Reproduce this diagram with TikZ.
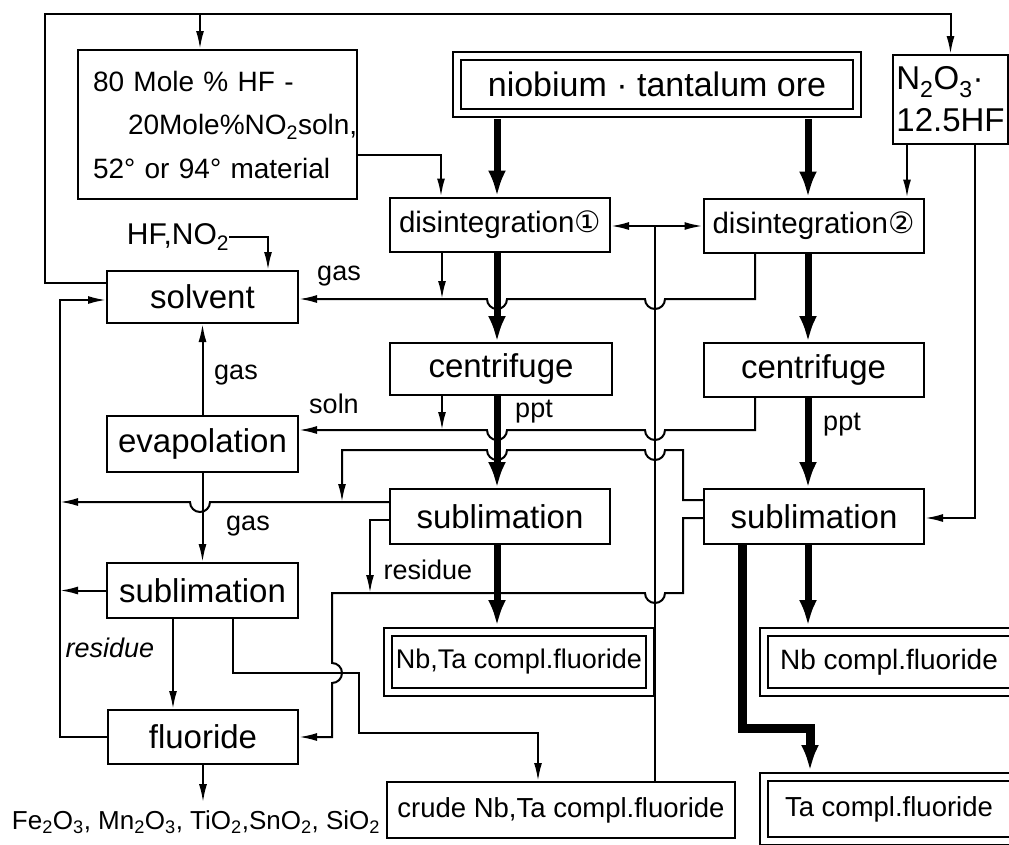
\documentclass[tikz,border=0pt]{standalone}
\usepackage{fontspec}
\setmainfont{Liberation Sans}
\newfontfamily\circfont{DejaVu Sans}
\usetikzlibrary{arrows.meta}
\tikzset{
  box/.style={draw,line width=2pt,inner sep=0pt,minimum width=220pt,minimum height=54pt,font=\fontsize{33}{36}\selectfont},
  disbox/.style={box,font=\fontsize{29.5}{32}\selectfont},
  sbox/.style={box,minimum width=191pt,minimum height=55pt},
  dbox/.style={box,double,double distance=6pt,font=\fontsize{27}{30}\selectfont},
  lbl/.style={inner sep=0pt,font=\fontsize{27}{30}\selectfont},
  pipe/.style={line width=2pt},
  flow/.style={line width=2pt,-{Latex[length=18pt,width=8pt]}},
  main/.style={line width=7pt,-{Latex[length=26pt,width=18pt]}},
}
\begin{document}
\begin{tikzpicture}[x=1pt,y=-1pt]
\useasboundingbox (0,0) rectangle (1009,844);
\clip (0,0) rectangle (1009,844);
\node[box,minimum width=279pt,minimum height=149pt,text width=249pt,align=left,font=\fontsize{28}{43.5}\selectfont] (hfsoln) at (217.5,124.5) {80 Mole \% HF -\\\hspace*{35pt}20Mole\%NO\textsubscript{2}soln,\\52° or 94° material};
\node[dbox,minimum width=400pt,minimum height=57pt,font=\fontsize{34}{36}\selectfont] (ore) at (657,84.5) {niobium · tantalum ore};
\node[box,minimum width=115pt,minimum height=89pt,align=left,font=\fontsize{33}{42}\selectfont] (nnox) at (950.5,99.5) {N\textsubscript{2}O\textsubscript{3}·\\12.5HF};
\node[disbox] (dis1) at (500,224.5) {disintegration{\circfont ①}};
\node[disbox] (dis2) at (813.5,225.5) {disintegration{\circfont ②}};
\node[sbox,minimum height=52pt] (solvent) at (202.5,297) {solvent};
\node[box,minimum width=222pt,minimum height=52pt] (cen1) at (501,369) {centrifuge};
\node[box] (cen2) at (813.5,370) {centrifuge};
\node[sbox,minimum height=56pt] (evap) at (202.5,444) {evapolation};
\node[box,minimum height=55pt] (sub1) at (500,516.5) {sublimation};
\node[box,minimum height=55pt] (sub2) at (814,516.5) {sublimation};
\node[sbox] (sub3) at (202.5,590.5) {sublimation};
\node[sbox,minimum width=190pt,minimum height=54pt] (fluor) at (203,737) {fluoride};
\node[dbox,minimum width=262pt,minimum height=60pt] (nbta) at (519,662) {Nb,Ta compl.fluoride};
\node[dbox,minimum width=250pt,minimum height=60pt,font=\fontsize{28}{30}\selectfont] (nb) at (889,662) {Nb compl.fluoride};
\node[dbox,minimum width=250pt,minimum height=64pt,font=\fontsize{27.5}{30}\selectfont] (ta) at (889,809) {Ta compl.fluoride};
\node[box,minimum width=348pt,minimum height=56pt,font=\fontsize{27.5}{30}\selectfont] (crude) at (561,810) {crude Nb,Ta compl.fluoride};
\node[lbl,inner ysep=8pt,font=\fontsize{26}{28}\selectfont] (oxides) at (196,822) {Fe\textsubscript{2}O\textsubscript{3}, Mn\textsubscript{2}O\textsubscript{3}, TiO\textsubscript{2},SnO\textsubscript{2}, SiO\textsubscript{2}};
\node[lbl,font=\fontsize{30}{32}\selectfont] (hfno) at (178,237) {HF,NO\textsubscript{2}};
\node[lbl] (gas1) at (339,276) {gas};
\node[lbl] (gas2) at (236,375) {gas};
\node[lbl] (soln) at (334,404) {soln};
\node[lbl] (gas3) at (248,526) {gas};
\node[lbl] (ppt1) at (534,412) {ppt};
\node[lbl] (ppt2) at (842,425) {ppt};
\node[lbl] (res1) at (428,570) {residue};
\node[lbl,font=\fontsize{27}{30}\itshape] (res2) at (110,648) {residue};
\coordinate (loopL) at (45,283);
\coordinate (loopT) at (45,14);
\coordinate (feedin) at (200,14);
\coordinate (hfo) at (441,155);
\coordinate (colL) at (497,0);
\coordinate (colR) at (808,0);
\coordinate (nx1) at (907,0);
\coordinate (nx2) at (975,518);
\coordinate (recy) at (655,226);
\coordinate (g1) at (442,299);
\coordinate (g2) at (755,299);
\coordinate (s1) at (442,430);
\coordinate (s2) at (755,430);
\coordinate (rA) at (683,500);
\coordinate (rB) at (342,450);
\coordinate (lvl) at (60,502);
\coordinate (tk) at (60,300);
\coordinate (nofeed) at (268,237);
\coordinate (rs1) at (370,520);
\coordinate (rlvl) at (370,593);
\coordinate (rs2) at (683,518);
\coordinate (rdrop) at (332,593);
\coordinate (cA) at (233,673);
\coordinate (cB) at (359,733);
\coordinate (cC) at (538,733);
\coordinate (res3) at (173,0);
\coordinate (tabend) at (742,728);
\coordinate (tadrop) at (810,728);
\draw[flow] (solvent.west |- loopL) -- (loopL) -- (loopT) -| (nnox.north);
\draw[flow] (feedin) -- (feedin |- hfsoln.north);
\draw[flow] (hfsoln.east |- hfo) -- (hfo) -- (hfo |- dis1.north);
\draw[main] ([yshift=-5pt]ore.south -| colL) -- (dis1.north -| colL);
\draw[main] ([yshift=-5pt]ore.south -| colR) -- (dis2.north -| colR);
\draw[main] (dis1.south -| colL) -- (cen1.north -| colL);
\draw[main] (cen1.south -| colL) -- (sub1.north -| colL);
\draw[main] (sub1.south -| colL) -- ([yshift=5pt]nbta.north -| colL);
\draw[main] (dis2.south -| colR) -- (cen2.north -| colR);
\draw[main] (cen2.south -| colR) -- (sub2.north -| colR);
\draw[main] (sub2.south -| colR) -- ([yshift=5pt]nb.north -| colR);
\draw[main,line width=9pt] (sub2.south -| tabend) -- (tabend) -- (tadrop) -- ([yshift=5pt]ta.north -| tadrop);
\draw[flow] (nnox.south -| nx1) -- (dis2.north -| nx1);
\draw[flow] (nnox.south -| nx2) -- (nx2) -- (sub2.east |- nx2);
\draw[pipe] (crude.north -| recy) -- (recy);
\draw[flow] (recy) -- (dis1.east |- recy);
\draw[flow] (recy) -- (dis2.west |- recy);
\draw[flow] (dis2.south -| g2) -- (g2) -- (665,299) arc[start angle=0,end angle=-180,radius=10pt] -- (507,299) arc[start angle=0,end angle=-180,radius=10pt] -- (solvent.east |- g2);
\draw[flow] (dis1.south -| g1) -- (g1);
\draw[flow] (cen2.south -| s2) -- (s2) -- (665,430) arc[start angle=0,end angle=-180,radius=10pt] -- (507,430) arc[start angle=0,end angle=-180,radius=10pt] -- (evap.east |- s2);
\draw[flow] (cen1.south -| s1) -- (s1);
\draw[flow] (sub2.west |- rA) -- (rA) -- (683,450) -- (665,450) arc[start angle=0,end angle=-180,radius=10pt] -- (507,450) arc[start angle=0,end angle=-180,radius=10pt] -- (rB) -- (rB |- lvl);
\draw[flow] (sub1.west |- lvl) -- (210,502) arc[start angle=0,end angle=-180,radius=10pt] -- (lvl);
\draw[flow] (fluor.west) -- (fluor.west -| tk) -- (tk) -- (solvent.west |- tk);
\draw[flow] (sub3.west) -- (sub3.west -| tk);
\draw[flow] (evap.north) -- (solvent.south);
\draw[flow] (evap.south) -- (sub3.north);
\draw[flow] (hfno.east) -- (nofeed) -- (nofeed |- solvent.north);
\draw[flow] (sub1.west |- rs1) -- (rs1) -- (rlvl);
\draw[flow] (sub2.west |- rs2) -- (rs2) -- (683,593) -- (665,593) arc[start angle=0,end angle=-180,radius=10pt] -- (rdrop) -- (332,663) arc[start angle=90,end angle=-90,radius=10pt] -- (fluor.east -| rdrop) -- (fluor.east);
\draw[flow] (sub3.south -| cA) -- (cA) -- (cA -| cB) -- (cB) -- (cC) -- (cC |- crude.north);
\draw[flow] (sub3.south -| res3) -- (fluor.north -| res3);
\draw[flow] (fluor.south) -- (oxides.north -| fluor.south);
\end{tikzpicture}
\end{document}
